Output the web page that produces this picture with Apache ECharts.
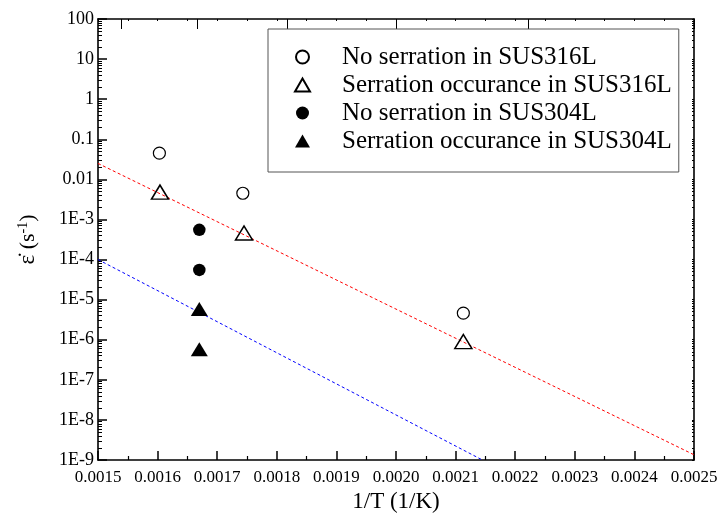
<!DOCTYPE html>
<html>
<head>
<meta charset="utf-8">
<script src="https://cdn.jsdelivr.net/npm/echarts@6/dist/echarts.min.js"></script>
<style>html,body{margin:0;padding:0;background:#fff;}#c{width:721px;height:521px;}</style>
</head>
<body>
<div id="c"></div>
<script>
// ---- data ----
var noSer316X = [0.001603, 0.001743, 0.002113];
var noSer316Y = [0.045, 0.0045, 4.6e-6];
var ser316X = [0.001604, 0.001745, 0.002113];
var ser316Y = [0.0048, 0.00046, 9e-7];
var noSer304X = [0.00167, 0.00167];
var noSer304Y = [5.5e-4, 5.5e-5];
var ser304X = [0.00167, 0.00167];
var ser304Y = [5.8e-6, 5.8e-7];
var redFitX = [0.0015, 0.0025];
var redFitY = [0.025, 1.35e-9];
var blueFitX = [0.0015, 0.002145];
var blueFitY = [1e-4, 1e-9];
var seriesNames = ['No serration in SUS316L', 'Serration occurance in SUS316L', 'No serration in SUS304L', 'Serration occurance in SUS304L'];
var xTickLabels = ['0.0015','0.0016','0.0017','0.0018','0.0019','0.0020','0.0021','0.0022','0.0023','0.0024','0.0025'];
var yTickLabels = ['1E-9','1E-8','1E-7','1E-6','1E-5','1E-4','1E-3','0.01','0.1','1','10','100'];
var yExponents = [-9,-8,-7,-6,-5,-4,-3,-2,-1,0,1,2];
var topTemps = [650, 600, 550, 500, 450, 400];

function zip(xs, ys) { return xs.map(function (x, i) { return [x, ys[i]]; }); }
var yMajor = yExponents.map(function (e) { return Math.pow(10, e); });
var yMinor = [];
yExponents.slice(0, -1).forEach(function (e) {
  for (var k = 2; k <= 9; k++) yMinor.push(k * Math.pow(10, e));
});
var xMinor = [];
for (var i = 0; i <= 20; i++) xMinor.push(0.0015 + i * 0.00005);
var topTicks = topTemps.map(function (t) { return 1 / t; });

var font = '"Liberation Serif", "Times New Roman", serif';
var chart = echarts.init(document.getElementById('c'), null, { renderer: 'canvas' });
var grid = { left: 98, right: 27, top: 19, bottom: 61 };
var axisLineStyle = { color: '#000', width: 1.6 };

chart.setOption({
  backgroundColor: '#fff',
  animation: false,
  textStyle: { fontFamily: font },
  grid: grid,
  legend: {
    orient: 'vertical',
    left: 268, top: 29,
    padding: [14, 7, 17, 26],
    itemGap: 0,
    itemWidth: 15,
    itemHeight: 13,
    borderColor: '#555',
    borderWidth: 1,
    borderRadius: 0,
    backgroundColor: '#fff',
    textStyle: { fontFamily: font, fontSize: 25, color: '#000', lineHeight: 28, padding: [0, 0, 0, 27] },
    data: seriesNames
  },
  xAxis: [
    {
      type: 'value', position: 'bottom', min: 0.0015, max: 0.0025, interval: 0.0001,
      name: '1/T (1/K)', nameLocation: 'middle', nameGap: 30,
      nameTextStyle: { fontFamily: font, fontSize: 23, color: '#000' },
      axisLine: { onZero: false, lineStyle: axisLineStyle },
      axisTick: { inside: true, length: 9, lineStyle: { color: '#000', width: 1.5 } },
      minorTick: { show: true, splitNumber: 2, length: 4, lineStyle: { color: '#000', width: 1.2 } },
      axisLabel: {
        fontFamily: font, fontSize: 17, color: '#000', margin: 9,
        formatter: function (v) { return xTickLabels[Math.round((v - 0.0015) / 0.0001)]; }
      },
      splitLine: { show: false }
    },
    {
      type: 'value', position: 'top', min: 0.0015, max: 0.0025,
      axisLine: { onZero: false, lineStyle: axisLineStyle },
      axisTick: { inside: true, length: 2, customValues: xMinor, lineStyle: { color: '#000', width: 1 } },
      axisLabel: { show: false }, splitLine: { show: false }
    },
    {
      type: 'value', position: 'top', min: 0.0015, max: 0.0025,
      axisLine: { show: false, onZero: false },
      axisTick: { inside: true, length: 10, customValues: topTicks, lineStyle: { color: '#000', width: 1 } },
      axisLabel: { show: false }, splitLine: { show: false }
    }
  ],
  yAxis: [
    {
      type: 'log', logBase: 10, position: 'left', min: 1e-9, max: 100,
      name: '{e|ε̇} {t|(s}{s|-1}{t|)}', nameLocation: 'middle', nameGap: 58,
      nameTextStyle: {
        fontFamily: font, fontSize: 22, color: '#000',
        rich: {
          e: { fontFamily: font, fontSize: 23, color: '#000' },
          t: { fontFamily: font, fontSize: 22, color: '#000' },
          s: { fontFamily: font, fontSize: 14, color: '#000', verticalAlign: 'top', padding: [0, 0, 10, 0] }
        }
      },
      axisLine: { onZero: false, lineStyle: axisLineStyle },
      axisTick: { inside: true, length: 9, customValues: yMajor, lineStyle: { color: '#000', width: 1.5 } },
      axisLabel: {
        fontFamily: font, fontSize: 18, color: '#000', margin: 4, customValues: yMajor,
        formatter: function (v) {
          var e = Math.round(Math.log10(v));
          return yTickLabels[yExponents.indexOf(e)];
        }
      },
      splitLine: { show: false }
    },
    {
      type: 'log', logBase: 10, position: 'left', min: 1e-9, max: 100,
      axisLine: { show: false, onZero: false },
      axisTick: { inside: true, length: 4, customValues: yMinor, lineStyle: { color: '#000', width: 1 } },
      axisLabel: { show: false }, splitLine: { show: false }
    },
    {
      type: 'log', logBase: 10, position: 'right', min: 1e-9, max: 100,
      axisLine: { onZero: false, lineStyle: axisLineStyle },
      axisTick: { inside: true, length: 2, customValues: yMajor.concat(yMinor), lineStyle: { color: '#000', width: 1 } },
      axisLabel: { show: false }, splitLine: { show: false }
    }
  ],
  series: [
    {
      name: 'redFit', type: 'line', xAxisIndex: 0, yAxisIndex: 0, data: zip(redFitX, redFitY),
      showSymbol: false, symbol: 'none', silent: true,
      lineStyle: { color: '#ff0000', width: 1, type: [3, 2.5] }, z: 1
    },
    {
      name: 'blueFit', type: 'line', xAxisIndex: 0, yAxisIndex: 0, data: zip(blueFitX, blueFitY),
      showSymbol: false, symbol: 'none', silent: true,
      lineStyle: { color: '#0000ff', width: 1, type: [3, 2.5] }, z: 1
    },
    {
      name: seriesNames[0], type: 'scatter', data: zip(noSer316X, noSer316Y),
      symbol: 'circle', symbolSize: 12,
      itemStyle: { color: 'rgba(255,255,255,0)', borderColor: '#000', borderWidth: 1.2, opacity: 1 }, z: 3
    },
    {
      name: seriesNames[1], type: 'scatter', data: zip(ser316X, ser316Y),
      symbol: 'triangle', symbolSize: [17, 14],
      itemStyle: { color: 'rgba(255,255,255,0)', borderColor: '#000', borderWidth: 1.5, opacity: 1 }, z: 3
    },
    {
      name: seriesNames[2], type: 'scatter', data: zip(noSer304X, noSer304Y),
      symbol: 'circle', symbolSize: 12.5,
      itemStyle: { color: '#000', opacity: 1 }, z: 3
    },
    {
      name: seriesNames[3], type: 'scatter', data: zip(ser304X, ser304Y),
      symbol: 'triangle', symbolSize: [17, 14],
      itemStyle: { color: '#000', opacity: 1 }, z: 3
    }
  ]
});
</script>
</body>
</html>
